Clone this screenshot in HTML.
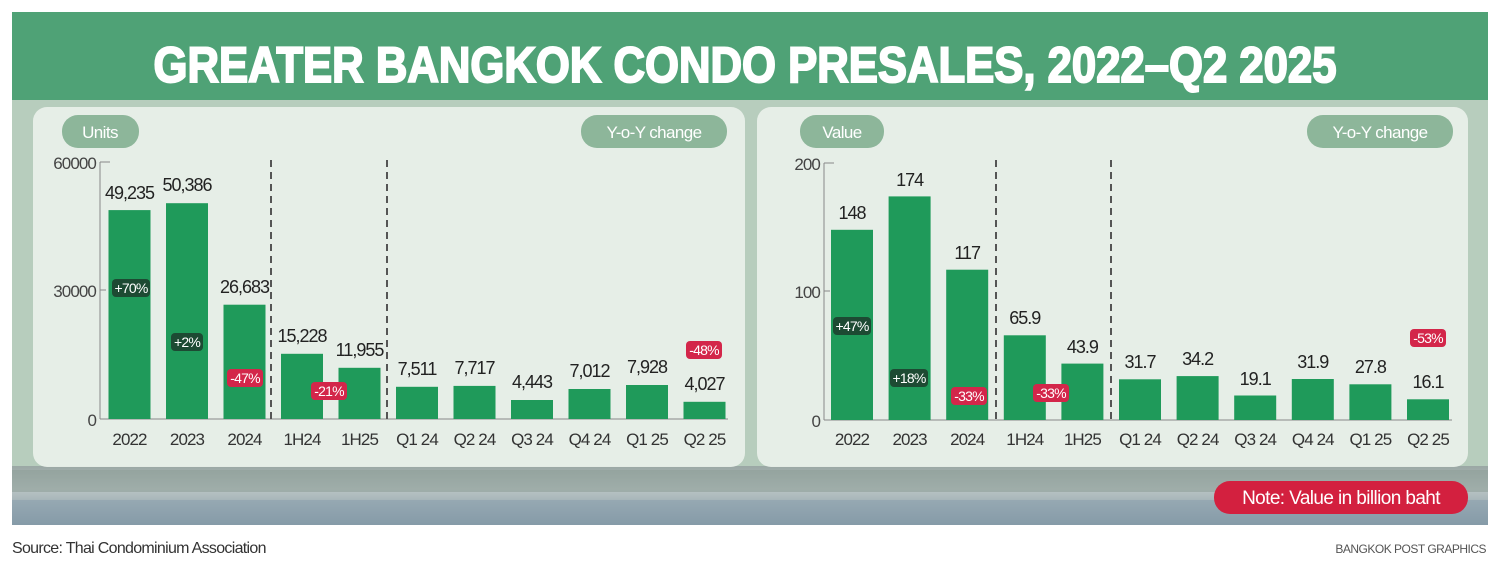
<!DOCTYPE html>
<html><head><meta charset="utf-8"><style>
html,body{margin:0;padding:0;background:#fff;}
svg{display:block;}
text{font-family:"Liberation Sans",sans-serif;}
.v{font-size:18px;letter-spacing:-1px;}
.x{font-size:17px;letter-spacing:-0.9px;}
.b{font-size:14px;letter-spacing:-0.8px;}
</style></head><body>
<svg width="1500" height="561" viewBox="0 0 1500 561" xmlns="http://www.w3.org/2000/svg">
<defs>
<linearGradient id="water" x1="0" y1="0" x2="0" y2="1">
<stop offset="0" stop-color="#9aa7a4"/>
<stop offset="0.4" stop-color="#b9c4c4"/>
<stop offset="1" stop-color="#7e93a0"/>
</linearGradient>
</defs>
<rect x="0" y="0" width="1500" height="561" fill="#fff"/>
<rect x="12" y="12" width="1476" height="513" fill="#4fa276"/>
<rect x="12" y="100" width="1476" height="368" fill="#b7cdbd"/>
<rect x="12" y="466" width="1476" height="59" fill="url(#water)"/>
<rect x="12" y="470" width="1476" height="22" fill="#8e9e98" opacity="0.6"/>
<rect x="12" y="500" width="1476" height="25" fill="#8aa0ae" opacity="0.6"/>
<text x="745" y="82" text-anchor="middle" font-size="50" font-weight="bold" fill="#fff" stroke="#fff" stroke-width="2" textLength="1183" lengthAdjust="spacingAndGlyphs">GREATER BANGKOK CONDO PRESALES, 2022–Q2 2025</text>

<rect x="33" y="107" width="712" height="360" rx="14" fill="#eaf0ea" opacity="0.93"/>
<rect x="757" y="107" width="711" height="360" rx="14" fill="#eaf0ea" opacity="0.93"/>

<g font-size="17" fill="#fff" text-anchor="middle" letter-spacing="-0.6">
<rect x="62" y="115" width="77" height="33" rx="16" fill="#8db69a"/><text x="100" y="138">Units</text>
<rect x="581" y="115" width="146" height="33" rx="16" fill="#8db69a"/><text x="654" y="138">Y-o-Y change</text>
<rect x="800" y="115" width="84" height="33" rx="16" fill="#8db69a"/><text x="842" y="138">Value</text>
<rect x="1307" y="115" width="146" height="33" rx="16" fill="#8db69a"/><text x="1380" y="138">Y-o-Y change</text>
<rect x="1214" y="481" width="254" height="33" rx="16" fill="#d3203f"/><text x="1341" y="504" font-size="19">Note: Value in billion baht</text>
</g>

<!-- LEFT CHART -->
<g stroke="#888" stroke-width="1">
<line x1="100" y1="162" x2="100" y2="419"/><line x1="100" y1="162" x2="110" y2="162"/><line x1="100" y1="290" x2="106" y2="290"/>
<line x1="100" y1="419" x2="728" y2="419"/>
</g>
<g stroke="#555" stroke-width="2" stroke-dasharray="7,5">
<line x1="271" y1="160" x2="271" y2="419"/><line x1="387" y1="160" x2="387" y2="419"/>
</g>
<g class="x" fill="#444" text-anchor="end">
<text x="96" y="169">60000</text><text x="96" y="297">30000</text><text x="96" y="426">0</text>
</g>
<g fill="#1f9a5a">
<rect x="108.5" y="210.1" width="42" height="208.9"/>
<rect x="166" y="203.2" width="42" height="215.8"/>
<rect x="223.5" y="304.7" width="42" height="114.3"/>
<rect x="281" y="353.8" width="42" height="65.2"/>
<rect x="338.5" y="367.8" width="42" height="51.2"/>
<rect x="396" y="386.8" width="42" height="32.2"/>
<rect x="453.5" y="385.9" width="42" height="33.1"/>
<rect x="511" y="400" width="42" height="19"/>
<rect x="568.5" y="389" width="42" height="30"/>
<rect x="626" y="385" width="42" height="34"/>
<rect x="683.5" y="401.8" width="42" height="17.2"/>
</g>
<g class="v" fill="#222" text-anchor="middle">
<text x="129.5" y="199">49,235</text><text x="187" y="191">50,386</text><text x="244.5" y="293">26,683</text>
<text x="302" y="342">15,228</text><text x="359.5" y="356">11,955</text><text x="417" y="375">7,511</text>
<text x="474.5" y="374">7,717</text><text x="532" y="388">4,443</text><text x="589.5" y="377">7,012</text>
<text x="647" y="373">7,928</text><text x="704.5" y="390">4,027</text>
</g>
<g class="x" fill="#333" text-anchor="middle">
<text x="129.5" y="445">2022</text><text x="187" y="445">2023</text><text x="244.5" y="445">2024</text>
<text x="302" y="445">1H24</text><text x="359.5" y="445">1H25</text><text x="417" y="445">Q1 24</text>
<text x="474.5" y="445">Q2 24</text><text x="532" y="445">Q3 24</text><text x="589.5" y="445">Q4 24</text>
<text x="647" y="445">Q1 25</text><text x="704.5" y="445">Q2 25</text>
</g>
<g class="b" fill="#fff" text-anchor="middle">
<rect x="112" y="279" width="38" height="18" rx="4" fill="#1d4a33"/><text x="131" y="293">+70%</text>
<rect x="171" y="333" width="32" height="18" rx="4" fill="#1d4a33"/><text x="187" y="347">+2%</text>
<rect x="227" y="369" width="36" height="18" rx="4" fill="#d3264a"/><text x="245" y="383">-47%</text>
<rect x="311" y="382" width="36" height="18" rx="4" fill="#d3264a"/><text x="329" y="396">-21%</text>
<rect x="686" y="341" width="36" height="18" rx="4" fill="#d3264a"/><text x="704" y="355">-48%</text>
</g>

<!-- RIGHT CHART -->
<g stroke="#888" stroke-width="1">
<line x1="824" y1="163" x2="824" y2="420"/><line x1="824" y1="163" x2="834" y2="163"/><line x1="824" y1="291" x2="830" y2="291"/>
<line x1="824" y1="420" x2="1452" y2="420"/>
</g>
<g stroke="#555" stroke-width="2" stroke-dasharray="7,5">
<line x1="996" y1="160" x2="996" y2="420"/><line x1="1111" y1="160" x2="1111" y2="420"/>
</g>
<g class="x" fill="#444" text-anchor="end">
<text x="820" y="170">200</text><text x="820" y="298">100</text><text x="820" y="427">0</text>
</g>
<g fill="#1f9a5a">
<rect x="831" y="229.8" width="42" height="190.2"/>
<rect x="888.6" y="196.4" width="42" height="223.6"/>
<rect x="946.2" y="269.7" width="42" height="150.3"/>
<rect x="1003.8" y="335.3" width="42" height="84.7"/>
<rect x="1061.4" y="363.6" width="42" height="56.4"/>
<rect x="1119" y="379.3" width="42" height="40.7"/>
<rect x="1176.6" y="376.1" width="42" height="43.9"/>
<rect x="1234.2" y="395.5" width="42" height="24.5"/>
<rect x="1291.8" y="379" width="42" height="41"/>
<rect x="1349.4" y="384.3" width="42" height="35.7"/>
<rect x="1407" y="399.3" width="42" height="20.7"/>
</g>
<g class="v" fill="#222" text-anchor="middle">
<text x="852" y="219">148</text><text x="909.6" y="186">174</text><text x="967.2" y="259">117</text>
<text x="1024.8" y="324">65.9</text><text x="1082.4" y="353">43.9</text><text x="1140" y="368">31.7</text>
<text x="1197.6" y="365">34.2</text><text x="1255.2" y="385">19.1</text><text x="1312.8" y="368">31.9</text>
<text x="1370.4" y="373">27.8</text><text x="1428" y="388">16.1</text>
</g>
<g class="x" fill="#333" text-anchor="middle">
<text x="852" y="445">2022</text><text x="909.6" y="445">2023</text><text x="967.2" y="445">2024</text>
<text x="1024.8" y="445">1H24</text><text x="1082.4" y="445">1H25</text><text x="1140" y="445">Q1 24</text>
<text x="1197.6" y="445">Q2 24</text><text x="1255.2" y="445">Q3 24</text><text x="1312.8" y="445">Q4 24</text>
<text x="1370.4" y="445">Q1 25</text><text x="1428" y="445">Q2 25</text>
</g>
<g class="b" fill="#fff" text-anchor="middle">
<rect x="833" y="317" width="38" height="18" rx="4" fill="#1d4a33"/><text x="852" y="331">+47%</text>
<rect x="890" y="369" width="38" height="18" rx="4" fill="#1d4a33"/><text x="909" y="383">+18%</text>
<rect x="951" y="387" width="36" height="18" rx="4" fill="#d3264a"/><text x="969" y="401">-33%</text>
<rect x="1033" y="384" width="36" height="18" rx="4" fill="#d3264a"/><text x="1051" y="398">-33%</text>
<rect x="1410" y="329" width="36" height="18" rx="4" fill="#d3264a"/><text x="1428" y="343">-53%</text>
</g>

<text x="12" y="553" font-size="16" letter-spacing="-0.7" fill="#333">Source: Thai Condominium Association</text>
<text x="1486" y="553" font-size="12" letter-spacing="-0.5" fill="#555" text-anchor="end">BANGKOK POST GRAPHICS</text>
</svg>
</body></html>
